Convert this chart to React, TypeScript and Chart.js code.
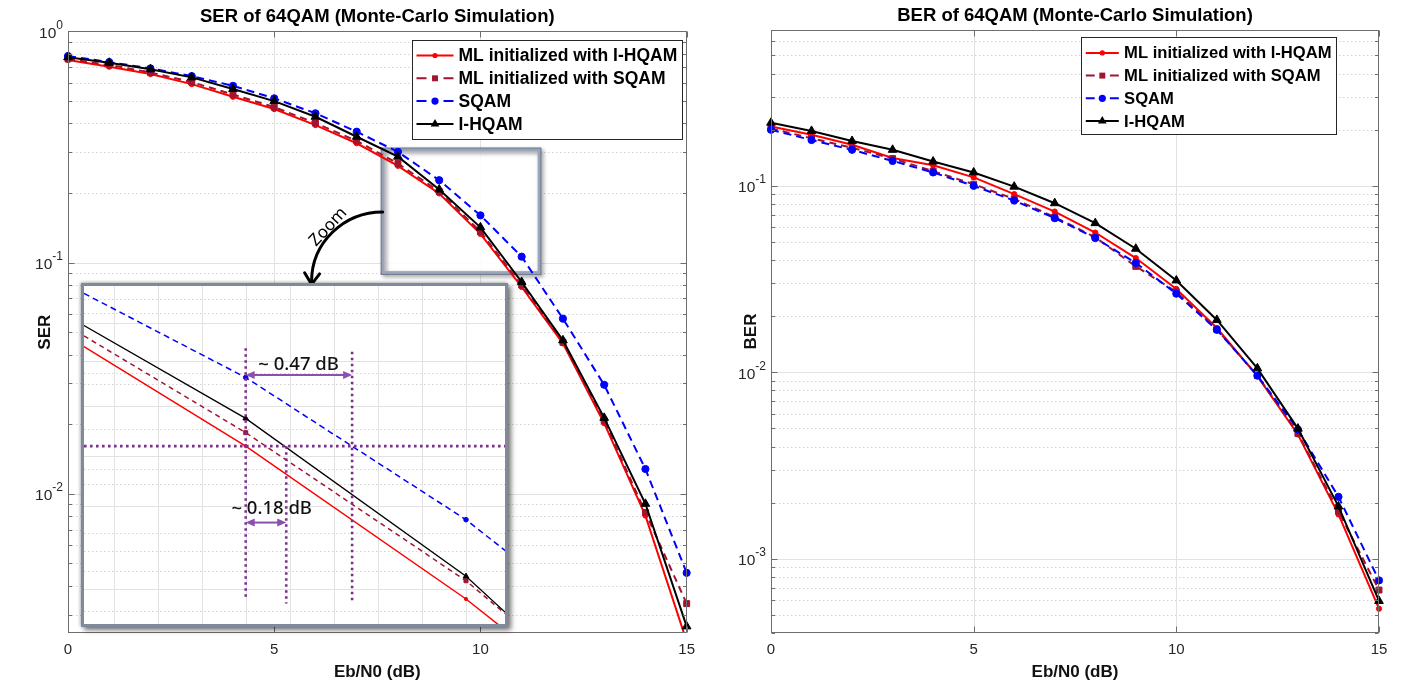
import React, { useEffect, useRef } from 'react';
import { Chart, registerables } from 'chart.js';

Chart.register(...registerables);

const FONT = "'Liberation Sans', Arial, Helvetica, sans-serif";
const NOTE_FONT = "'Noto Sans', 'DejaVu Sans', sans-serif";
Chart.defaults.font.family = FONT;
Chart.defaults.color = '#262626';

// ---------------- data ----------------
const EBN0_DB = [0, 1, 2, 3, 4, 5, 6, 7, 8, 9, 10, 11, 12, 13, 14, 15];
const SERIES_LABELS = ['ML initialized with I-HQAM', 'ML initialized with SQAM', 'SQAM', 'I-HQAM'];
const X_TICKS = [0, 5, 10, 15];

const SER_ML_IHQAM = [0.751, 0.703, 0.653, 0.591, 0.521, 0.461, 0.393, 0.328, 0.262, 0.199, 0.133, 0.0784, 0.0447, 0.0202, 0.00805, 0.0023];
const SER_ML_SQAM = [0.76, 0.715, 0.664, 0.603, 0.533, 0.47, 0.401, 0.336, 0.268, 0.203, 0.136, 0.08, 0.0452, 0.0207, 0.0083, 0.00335];
const SER_SQAM = [0.782, 0.736, 0.691, 0.64, 0.581, 0.513, 0.442, 0.368, 0.301, 0.227, 0.16, 0.106, 0.0572, 0.0296, 0.0128, 0.00455];
const SER_IHQAM = [0.772, 0.731, 0.685, 0.632, 0.563, 0.499, 0.427, 0.35, 0.287, 0.207, 0.142, 0.0824, 0.0461, 0.0213, 0.00905, 0.00267];

const BER_ML_IHQAM = [0.208, 0.188, 0.166, 0.141, 0.129, 0.111, 0.0903, 0.0728, 0.0562, 0.041, 0.028, 0.0173, 0.00953, 0.00464, 0.00173, 0.00054];
const BER_ML_SQAM = [0.203, 0.18, 0.16, 0.14, 0.12, 0.102, 0.085, 0.068, 0.053, 0.037, 0.027, 0.017, 0.0096, 0.0047, 0.0018, 0.00068];
const BER_SQAM = [0.2, 0.176, 0.156, 0.136, 0.118, 0.1, 0.0834, 0.0671, 0.0525, 0.0386, 0.0264, 0.0169, 0.0096, 0.00493, 0.00215, 0.000766];
const BER_IHQAM = [0.218, 0.197, 0.174, 0.156, 0.135, 0.118, 0.099, 0.0807, 0.0631, 0.046, 0.0311, 0.0191, 0.0105, 0.00499, 0.00191, 0.000594];

const SER_Y_EXPONENTS = [0, -1, -2];
const BER_Y_EXPONENTS = [-1, -2, -3];

// zoom indicator (data units of the SER plot)
const ZOOM_BOX_X = [7.63, 11.43];
const ZOOM_BOX_Y = [0.0902, 0.308];
const ZOOM_ARROW_FROM = [7.63, 0.1656];
const ZOOM_ARROW_TO = [5.906, 0.0805];
const ZOOM_LABEL_AT = [6.309, 0.1426];

// inset (magnified view)
const INSET_X = [8.266, 9, 10, 10.177];
const INSET_ML_IHQAM = [0.156, 0.1037, 0.0554, 0.0488];
const INSET_ML_SQAM = [0.163, 0.1096, 0.0597, 0.0522];
const INSET_SQAM = [0.194, 0.1374, 0.0767, 0.0676];
const INSET_IHQAM = [0.17, 0.1162, 0.0608, 0.0525];
const INSET_MARKED = [false, true, true, false];
const INSET_X_GRID = [8.4, 8.6, 8.8, 9.0, 9.2, 9.4, 9.6, 9.8, 10.0];
const INSET_Y_GRID_SOLID = [0.172, 0.147, 0.1222, 0.0995, 0.0811, 0.0577];
const INSET_Y_GRID_DOTTED = [0.1896, 0.1792, 0.1401, 0.1337, 0.1112, 0.0944, 0.0888, 0.0726, 0.0674, 0.0621, 0.0527];
const GUIDE_H_X = [8.266, 10.177];
const GUIDE_H_Y = [0.1037, 0.1037];
const GUIDE_V1_X = [9, 9];
const GUIDE_V1_Y = [0.155, 0.0551];
const GUIDE_V2_X = [9.184, 9.184];
const GUIDE_V2_Y = [0.1037, 0.0544];
const GUIDE_V3_X = [9.483, 9.483];
const GUIDE_V3_Y = [0.1528, 0.0544];
const GAP_LABELS = ['~ 0.47 dB', '~ 0.18 dB'];
const GAP_ARROW_X0 = [9, 9];
const GAP_ARROW_X1 = [9.483, 9.184];
const GAP_ARROW_Y = [0.1388, 0.0758];
const GAP_LABEL_X = [9.24, 9.118];
const GAP_LABEL_Y = [0.145, 0.0803];

// ---------------- styles ----------------
const STYLES = [
  { color: '#ff0000', dash: [] as number[], width: 2, point: 'circle', radius: 2.6, order: 4 },
  { color: '#a2142f', dash: [7, 5], width: 2, point: 'rect', radius: 4.2, order: 3 },
  { color: '#0000ff', dash: [8, 5], width: 2, point: 'circle', radius: 3.6, order: 2 },
  { color: '#000000', dash: [] as number[], width: 2, point: 'triangle', radius: 5, order: 1 },
];
const AXIS_COLOR = '#6e6e6e';
const GRID_MAJOR = '#e2e2e2';
const GRID_MINOR = '#d2d2d2';
const PURPLE_DOT = '#7e2f8e';
const PURPLE_ARROW = '#8b4fb0';

function drawMarker(ctx: CanvasRenderingContext2D, style: string, x: number, y: number, r: number) {
  ctx.beginPath();
  if (style === 'circle') {
    ctx.arc(x, y, r, 0, Math.PI * 2);
  } else if (style === 'rect') {
    const s = r * Math.SQRT1_2;
    ctx.rect(x - s, y - s, 2 * s, 2 * s);
  } else {
    let a = 0;
    ctx.moveTo(x + Math.sin(a) * r, y - Math.cos(a) * r);
    a += (2 * Math.PI) / 3;
    ctx.lineTo(x + Math.sin(a) * r, y - Math.cos(a) * r);
    a += (2 * Math.PI) / 3;
    ctx.lineTo(x + Math.sin(a) * r, y - Math.cos(a) * r);
    ctx.closePath();
  }
  ctx.fill();
}

function logTicks(min: number, max: number) {
  const out: { v: number; major: boolean }[] = [];
  const e0 = Math.floor(Math.log10(min));
  const e1 = Math.ceil(Math.log10(max));
  for (let e = e0; e <= e1; e++) {
    for (let m = 1; m < 10; m++) {
      const v = m * Math.pow(10, e);
      if (v >= min * 0.9999 && v <= max * 1.0001) out.push({ v, major: m === 1 });
    }
  }
  return out;
}

type LegendCfg = { right: number; w: number; top: number; h: number; first: number; rowH: number; l0: number; l1: number; tx: number; font: number };
type MainCfg = {
  title: string; yTitle: string; yMin: number; yMax: number; series: number[][]; exps: number[];
  legend: LegendCfg; yTitlePad: number; padRight: number; titlePad: { top: number; bottom: number }; zoom: boolean;
};

function makeMatlabPlugin(cfg: MainCfg) {
  return {
    id: 'matlabLook',
    beforeDatasetsDraw(chart: any) {
      const { ctx, chartArea } = chart;
      const { left, right, top, bottom } = chartArea;
      const xs = chart.scales.x;
      const ys = chart.scales.y;
      ctx.save();
      for (const t of logTicks(cfg.yMin, cfg.yMax)) {
        const py = Math.round(ys.getPixelForValue(t.v)) + 0.5;
        if (py <= top + 1 || py >= bottom - 1) continue;
        ctx.beginPath();
        ctx.lineWidth = 1;
        if (t.major) {
          ctx.setLineDash([]);
          ctx.strokeStyle = GRID_MAJOR;
        } else {
          ctx.setLineDash([1.5, 2.5]);
          ctx.strokeStyle = GRID_MINOR;
        }
        ctx.moveTo(left, py);
        ctx.lineTo(right, py);
        ctx.stroke();
      }
      ctx.setLineDash([]);
      ctx.strokeStyle = GRID_MAJOR;
      for (const v of X_TICKS) {
        const px = Math.round(xs.getPixelForValue(v)) + 0.5;
        if (px <= left + 1 || px >= right - 1) continue;
        ctx.beginPath();
        ctx.moveTo(px, top);
        ctx.lineTo(px, bottom);
        ctx.stroke();
      }
      if (cfg.zoom) {
        const x0 = xs.getPixelForValue(ZOOM_BOX_X[0]);
        const x1 = xs.getPixelForValue(ZOOM_BOX_X[1]);
        const y0 = ys.getPixelForValue(ZOOM_BOX_Y[1]);
        const y1 = ys.getPixelForValue(ZOOM_BOX_Y[0]);
        ctx.fillStyle = 'rgba(255,255,255,0.9)';
        ctx.fillRect(x0, y0, x1 - x0, y1 - y0);
        ctx.save();
        ctx.shadowColor = 'rgba(0,0,0,0.45)';
        ctx.shadowBlur = 4;
        ctx.shadowOffsetX = 2;
        ctx.shadowOffsetY = 2;
        ctx.strokeStyle = '#9aa5b8';
        ctx.lineWidth = 3.5;
        ctx.strokeRect(x0, y0, x1 - x0, y1 - y0);
        ctx.restore();
        ctx.strokeStyle = '#6c788e';
        ctx.lineWidth = 1;
        ctx.strokeRect(x0 - 1.5, y0 - 1.5, x1 - x0 + 3, y1 - y0 + 3);
      }
      ctx.restore();
    },
    afterDatasetsDraw(chart: any) {
      const { ctx, chartArea } = chart;
      const xs = chart.scales.x;
      const ys = chart.scales.y;
      const L = Math.round(chartArea.left) + 0.5;
      const R = Math.round(chartArea.right) - 0.5;
      const T = Math.round(chartArea.top) + 0.5;
      const B = Math.round(chartArea.bottom) - 0.5;
      ctx.save();
      ctx.strokeStyle = AXIS_COLOR;
      ctx.lineWidth = 1;
      ctx.strokeRect(L, T, R - L, B - T);
      ctx.beginPath();
      for (const v of X_TICKS) {
        const px = Math.round(xs.getPixelForValue(v)) + 0.5;
        ctx.moveTo(px, B);
        ctx.lineTo(px, B - 6);
        ctx.moveTo(px, T);
        ctx.lineTo(px, T + 6);
      }
      for (const t of logTicks(cfg.yMin, cfg.yMax)) {
        const py = Math.round(ys.getPixelForValue(t.v)) + 0.5;
        const len = t.major ? 6 : 3.5;
        ctx.moveTo(L, py);
        ctx.lineTo(L + len, py);
        ctx.moveTo(R, py);
        ctx.lineTo(R - len, py);
      }
      ctx.stroke();
      // y labels 10^e
      ctx.fillStyle = '#262626';
      ctx.textBaseline = 'middle';
      ctx.textAlign = 'left';
      for (const e of cfg.exps) {
        const py = ys.getPixelForValue(Math.pow(10, e));
        const exp = String(e);
        ctx.font = `12px ${FONT}`;
        const we = ctx.measureText(exp).width;
        ctx.font = `15.5px ${FONT}`;
        const wb = ctx.measureText('10').width;
        const xr = chartArea.left - 5;
        ctx.fillText('10', xr - we - wb, py + 2);
        ctx.font = `12px ${FONT}`;
        ctx.fillText(exp, xr - we, py - 6);
      }
      if (cfg.zoom) {
        const sx = xs.getPixelForValue(ZOOM_ARROW_FROM[0]);
        const sy = ys.getPixelForValue(ZOOM_ARROW_FROM[1]);
        const ex = xs.getPixelForValue(ZOOM_ARROW_TO[0]);
        const ey = ys.getPixelForValue(ZOOM_ARROW_TO[1]);
        ctx.strokeStyle = '#000';
        ctx.lineWidth = 3;
        ctx.lineCap = 'round';
        ctx.beginPath();
        ctx.ellipse(sx, ey - 3, sx - ex, ey - 3 - sy, 0, -Math.PI / 2, -Math.PI, true);
        ctx.lineTo(ex, ey);
        ctx.stroke();
        ctx.beginPath();
        ctx.moveTo(ex - 7, ey - 11.5);
        ctx.lineTo(ex, ey);
        ctx.lineTo(ex + 8, ey - 10.5);
        ctx.stroke();
        const lx = xs.getPixelForValue(ZOOM_LABEL_AT[0]);
        const ly = ys.getPixelForValue(ZOOM_LABEL_AT[1]);
        ctx.save();
        ctx.translate(lx, ly);
        ctx.rotate((-47 * Math.PI) / 180);
        ctx.fillStyle = '#000';
        ctx.font = `17px ${NOTE_FONT}`;
        ctx.textAlign = 'center';
        ctx.textBaseline = 'middle';
        ctx.fillText('Zoom', 0, 0);
        ctx.restore();
      }
      const lg = cfg.legend;
      const bx = Math.round(chartArea.right - lg.right - lg.w) + 0.5;
      const by = Math.round(chartArea.top + lg.top) + 0.5;
      ctx.fillStyle = '#fff';
      ctx.fillRect(bx, by, lg.w, lg.h);
      ctx.strokeStyle = '#262626';
      ctx.lineWidth = 1;
      ctx.strokeRect(bx, by, lg.w, lg.h);
      SERIES_LABELS.forEach((label, i) => {
        const st = STYLES[i];
        const y = by + lg.first + i * lg.rowH;
        const a = bx + lg.l0;
        const b = bx + lg.l1;
        ctx.strokeStyle = st.color;
        ctx.lineWidth = 2;
        ctx.lineCap = 'butt';
        ctx.beginPath();
        if (st.dash.length) {
          const seg = (b - a) * 0.27;
          ctx.moveTo(a, y);
          ctx.lineTo(a + seg, y);
          ctx.moveTo(b - seg, y);
          ctx.lineTo(b, y);
        } else {
          ctx.moveTo(a, y);
          ctx.lineTo(b, y);
        }
        ctx.stroke();
        ctx.fillStyle = st.color;
        drawMarker(ctx, st.point, (a + b) / 2, y, st.radius);
        ctx.fillStyle = '#000';
        ctx.font = `bold ${lg.font}px ${FONT}`;
        ctx.textAlign = 'left';
        ctx.textBaseline = 'middle';
        ctx.fillText(label, bx + lg.tx, y + 1);
      });
      ctx.restore();
    },
  };
}

function makeMainChart(canvas: HTMLCanvasElement, cfg: MainCfg) {
  const datasets = cfg.series.map((vals, i) => {
    const st = STYLES[i];
    return {
      label: SERIES_LABELS[i],
      data: vals.map((v, j) => ({ x: EBN0_DB[j], y: v })),
      borderColor: st.color,
      backgroundColor: st.color,
      borderWidth: st.width,
      borderDash: st.dash,
      pointStyle: st.point,
      pointRadius: st.radius,
      pointBackgroundColor: st.color,
      pointBorderColor: st.color,
      pointBorderWidth: 1,
      order: st.order,
      tension: 0,
      fill: false,
      clip: { left: 8, top: 8, right: 8, bottom: 0 },
    };
  });
  return new Chart(canvas, {
    type: 'line',
    data: { datasets },
    plugins: [makeMatlabPlugin(cfg)],
    options: {
      animation: false,
      responsive: false,
      devicePixelRatio: 1,
      events: [],
      layout: { padding: { left: 0, right: cfg.padRight, top: 0, bottom: 0 } },
      plugins: {
        legend: { display: false },
        tooltip: { enabled: false },
        title: {
          display: true,
          text: cfg.title,
          fullSize: false,
          color: '#000',
          font: { size: 18.5, weight: 'bold' },
          padding: cfg.titlePad,
        },
      },
      scales: {
        x: {
          type: 'linear',
          min: 0,
          max: 15,
          afterBuildTicks: (s: any) => {
            s.ticks = X_TICKS.map((v) => ({ value: v }));
          },
          afterFit: (s: any) => {
            s.height = 54;
          },
          grid: { display: false, drawTicks: false },
          border: { display: false },
          ticks: { font: { size: 15 }, color: '#262626', padding: 8, maxRotation: 0, autoSkip: false },
          title: {
            display: true,
            text: 'Eb/N0 (dB)',
            color: '#111',
            font: { size: 17, weight: 'bold' },
            padding: { top: 0, bottom: 4 },
          },
        },
        y: {
          type: 'logarithmic',
          min: cfg.yMin,
          max: cfg.yMax,
          afterFit: (s: any) => {
            s.width = 68;
          },
          grid: { display: false, drawTicks: false },
          border: { display: false },
          ticks: { display: false },
          title: {
            display: true,
            text: cfg.yTitle,
            color: '#111',
            font: { size: 17, weight: 'bold' },
            padding: { top: cfg.yTitlePad, bottom: 0 },
          },
        },
      },
    } as any,
  });
}

const INSET_STYLES = [
  { color: '#ff0000', dash: [] as number[], width: 1.5, point: 'circle', radius: 1.6, order: 4 },
  { color: '#a2142f', dash: [5, 4], width: 1.5, point: 'rect', radius: 2.8, order: 3 },
  { color: '#0000ff', dash: [6, 4], width: 1.5, point: 'circle', radius: 2.3, order: 2 },
  { color: '#000000', dash: [] as number[], width: 1.3, point: 'triangle', radius: 3.2, order: 1 },
];

function makeInsetChart(canvas: HTMLCanvasElement) {
  const series = [INSET_ML_IHQAM, INSET_ML_SQAM, INSET_SQAM, INSET_IHQAM];
  const curves = series.map((vals, i) => {
    const st = INSET_STYLES[i];
    return {
      label: SERIES_LABELS[i],
      data: vals.map((v, j) => ({ x: INSET_X[j], y: v })),
      borderColor: st.color,
      backgroundColor: st.color,
      borderWidth: st.width,
      borderDash: st.dash,
      pointStyle: st.point,
      pointRadius: INSET_MARKED.map((m) => (m ? st.radius : 0)),
      pointBackgroundColor: st.color,
      pointBorderColor: st.color,
      pointBorderWidth: 1,
      order: st.order,
      tension: 0,
      fill: false,
    };
  });
  const guides = [
    [GUIDE_H_X, GUIDE_H_Y],
    [GUIDE_V1_X, GUIDE_V1_Y],
    [GUIDE_V2_X, GUIDE_V2_Y],
    [GUIDE_V3_X, GUIDE_V3_Y],
  ].map(([gx, gy], k) => ({
    label: 'guide' + k,
    data: gx.map((x, j) => ({ x, y: gy[j] })),
    borderColor: PURPLE_DOT,
    borderWidth: 2.6,
    borderDash: [2.6, 3.4],
    borderCapStyle: 'butt',
    pointRadius: 0,
    order: 0,
    tension: 0,
    fill: false,
  }));
  const annot = {
    id: 'insetAnnot',
    beforeDatasetsDraw(chart: any) {
      const { ctx, chartArea } = chart;
      const xs = chart.scales.x;
      const ys = chart.scales.y;
      ctx.save();
      ctx.lineWidth = 1;
      ctx.strokeStyle = '#e2e2e2';
      for (const v of INSET_X_GRID) {
        const px = Math.round(xs.getPixelForValue(v)) + 0.5;
        ctx.beginPath();
        ctx.moveTo(px, chartArea.top);
        ctx.lineTo(px, chartArea.bottom);
        ctx.stroke();
      }
      for (const v of INSET_Y_GRID_SOLID) {
        const py = Math.round(ys.getPixelForValue(v)) + 0.5;
        ctx.beginPath();
        ctx.moveTo(chartArea.left, py);
        ctx.lineTo(chartArea.right, py);
        ctx.stroke();
      }
      ctx.strokeStyle = GRID_MINOR;
      ctx.setLineDash([1.5, 2.5]);
      for (const v of INSET_Y_GRID_DOTTED) {
        const py = Math.round(ys.getPixelForValue(v)) + 0.5;
        ctx.beginPath();
        ctx.moveTo(chartArea.left, py);
        ctx.lineTo(chartArea.right, py);
        ctx.stroke();
      }
      ctx.restore();
    },
    afterDatasetsDraw(chart: any) {
      const { ctx } = chart;
      const xs = chart.scales.x;
      const ys = chart.scales.y;
      ctx.save();
      GAP_LABELS.forEach((txt, i) => {
        const x0 = xs.getPixelForValue(GAP_ARROW_X0[i]);
        const x1 = xs.getPixelForValue(GAP_ARROW_X1[i]);
        const y = ys.getPixelForValue(GAP_ARROW_Y[i]);
        ctx.strokeStyle = PURPLE_ARROW;
        ctx.fillStyle = PURPLE_ARROW;
        ctx.lineWidth = 2;
        ctx.beginPath();
        ctx.moveTo(x0 + 6, y);
        ctx.lineTo(x1 - 6, y);
        ctx.stroke();
        ctx.beginPath();
        ctx.moveTo(x0, y);
        ctx.lineTo(x0 + 9, y - 4);
        ctx.lineTo(x0 + 9, y + 4);
        ctx.closePath();
        ctx.fill();
        ctx.beginPath();
        ctx.moveTo(x1, y);
        ctx.lineTo(x1 - 9, y - 4);
        ctx.lineTo(x1 - 9, y + 4);
        ctx.closePath();
        ctx.fill();
        ctx.fillStyle = '#111';
        ctx.font = `500 18.5px ${NOTE_FONT}`;
        ctx.textAlign = 'center';
        ctx.textBaseline = 'middle';
        ctx.fillText(txt, xs.getPixelForValue(GAP_LABEL_X[i]), ys.getPixelForValue(GAP_LABEL_Y[i]));
      });
      ctx.restore();
    },
  };
  return new Chart(canvas, {
    type: 'line',
    data: { datasets: [...guides, ...curves] as any },
    plugins: [annot],
    options: {
      animation: false,
      responsive: false,
      devicePixelRatio: 1,
      events: [],
      layout: { padding: 0 },
      plugins: { legend: { display: false }, tooltip: { enabled: false }, title: { display: false } },
      scales: {
        x: { type: 'linear', display: false, min: INSET_X[0], max: INSET_X[3] },
        y: { type: 'logarithmic', display: false, min: 0.05, max: 0.2 },
      },
    } as any,
  });
}

const LEFT_CFG: MainCfg = {
  title: 'SER of 64QAM (Monte-Carlo Simulation)',
  yTitle: 'SER',
  yMin: 0.0025,
  yMax: 1,
  series: [SER_ML_IHQAM, SER_ML_SQAM, SER_SQAM, SER_IHQAM],
  exps: SER_Y_EXPONENTS,
  legend: { right: 5, w: 270, top: 8.7, h: 99, first: 15, rowH: 22.8, l0: 4, l1: 41, tx: 46, font: 17.5 },
  yTitlePad: 35,
  padRight: 12,
  titlePad: { top: 6, bottom: 3.1 },
  zoom: true,
};

const RIGHT_CFG: MainCfg = {
  title: 'BER of 64QAM (Monte-Carlo Simulation)',
  yTitle: 'BER',
  yMin: 0.0004,
  yMax: 0.685,
  series: [BER_ML_IHQAM, BER_ML_SQAM, BER_SQAM, BER_IHQAM],
  exps: BER_Y_EXPONENTS,
  legend: { right: 43, w: 255, top: 7.3, h: 97, first: 15.4, rowH: 22.7, l0: 4.3, l1: 37.3, tx: 42.6, font: 16.6 },
  yTitlePad: 38,
  padRight: 27,
  titlePad: { top: 5, bottom: 2.8 },
  zoom: false,
};

export default function App() {
  const leftRef = useRef<HTMLCanvasElement>(null);
  const rightRef = useRef<HTMLCanvasElement>(null);
  const insetRef = useRef<HTMLCanvasElement>(null);

  useEffect(() => {
    const charts: Chart[] = [];
    if (leftRef.current) charts.push(makeMainChart(leftRef.current, LEFT_CFG));
    if (rightRef.current) charts.push(makeMainChart(rightRef.current, RIGHT_CFG));
    if (insetRef.current) charts.push(makeInsetChart(insetRef.current));
    return () => charts.forEach((c) => c.destroy());
  }, []);

  return (
    <div style={{ position: 'absolute', left: 0, top: 0, width: 1406, height: 687, background: '#fff', overflow: 'hidden' }}>
      <canvas ref={leftRef} width={703} height={687} style={{ position: 'absolute', left: 0, top: 0, width: 703, height: 687 }} />
      <canvas ref={rightRef} width={703} height={687} style={{ position: 'absolute', left: 703, top: 0, width: 703, height: 687 }} />
      <div
        style={{
          position: 'absolute',
          left: 81,
          top: 283,
          width: 421,
          height: 338,
          border: '3px solid #7f8a9d',
          background: '#fff',
          boxShadow: '3px 3px 5px rgba(0,0,0,0.55), -1px -1px 3px rgba(0,0,0,0.25)',
        }}
      >
        <canvas ref={insetRef} width={421} height={338} style={{ display: 'block', width: 421, height: 338 }} />
      </div>
    </div>
  );
}
